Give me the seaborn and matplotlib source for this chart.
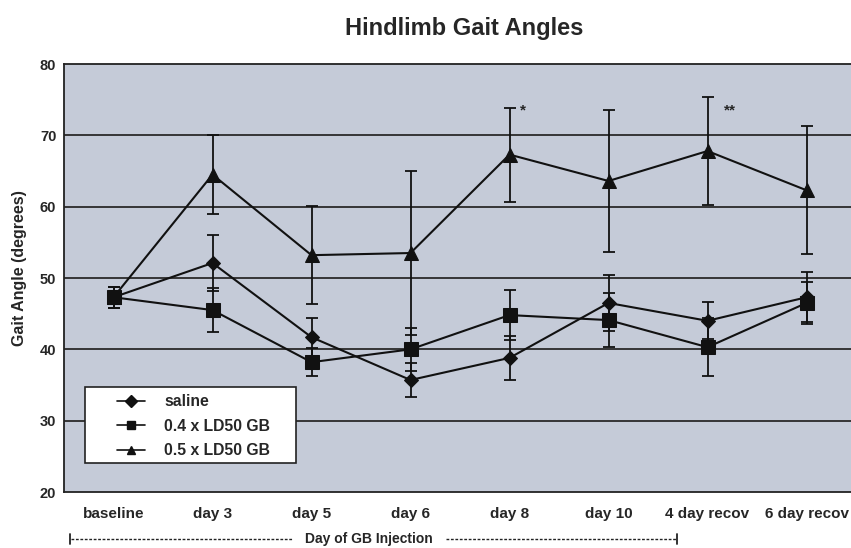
import numpy as np
import pandas as pd
import matplotlib
matplotlib.use('Agg')
import matplotlib.pyplot as plt
from matplotlib.patches import Rectangle
from matplotlib.lines import Line2D
import seaborn as sns

days = ['baseline', 'day 3', 'day 5', 'day 6', 'day 8', 'day 10', '4 day recov', '6 day recov']
groups = ['saline', '0.4 x LD50 GB', '0.5 x LD50 GB']

saline = [47.3, 52.1, 41.7, 35.7, 38.8, 46.5, 44.0, 47.3]
saline_err = [1.5, 3.9, 2.7, 2.4, 3.1, 3.9, 2.6, 3.5]
ld04 = [47.3, 45.5, 38.2, 40.0, 44.8, 44.1, 40.3, 46.5]
ld04_err = [1.5, 3.1, 2.0, 3.0, 3.5, 3.8, 4.1, 3.0]
ld05 = [47.3, 64.5, 53.2, 53.5, 67.3, 63.6, 67.8, 62.3]
ld05_err = [1.5, 5.5, 6.9, 11.5, 6.6, 10.0, 7.6, 9.0]

stars = {'day 8': '*', '4 day recov': '**'}

df = pd.DataFrame({
    'day': days * 3,
    'x': list(range(len(days))) * 3,
    'angle': saline + ld04 + ld05,
    'err': saline_err + ld04_err + ld05_err,
    'group': [g for g in groups for _ in days],
})

sns.set_style('white')
plt.rcParams['font.family'] = ['Liberation Sans', 'DejaVu Sans']

fig = plt.figure(figsize=(8.51, 5.48), dpi=100)
ax = fig.add_axes([64 / 851, 1 - 492 / 548, 792 / 851, 428 / 548])
ax.set_facecolor('#c5cbd8')

for y in [30, 40, 50, 60, 70]:
    ax.axhline(y, color='#2a2a2a', lw=1.3, zorder=1)

# error bars
for g in groups:
    sub = df[df['group'] == g]
    ax.errorbar(sub['x'], sub['angle'], yerr=sub['err'], fmt='none',
                ecolor='#111111', elinewidth=1.3, capsize=4, capthick=1.3, zorder=2)

mk = {'saline': 'D', '0.4 x LD50 GB': 's', '0.5 x LD50 GB': '^'}
sizes = {'saline': 7, '0.4 x LD50 GB': 10, '0.5 x LD50 GB': 9.5}
sns.lineplot(data=df, x='x', y='angle', hue='group', style='group',
             palette=['#111111'] * 3, markers=mk, dashes=False, markersize=10,
             lw=1.5, markeredgecolor='#111111', legend=False, ax=ax, zorder=3)
for line, g in zip(ax.get_lines()[-3:], groups):
    line.set_markersize(sizes[g])

for d, s in stars.items():
    i = days.index(d)
    ax.text(i + (0.14 if s == '*' else 0.23), 73.5, s, fontsize=11,
            fontweight='bold', ha='center', va='center')

ax.set_xlim(-0.5, 7.5)
ax.set_ylim(20, 80)
ax.set_yticks(range(20, 81, 10))
ax.set_xticks(range(len(days)))
ax.set_xticklabels(days)
ax.set_xticks(np.arange(0.5, 7.5, 1), minor=True)
ax.tick_params(axis='x', which='major', length=0, pad=11, labelsize=11)
ax.tick_params(axis='x', which='minor', length=4, direction='in', width=1.2)
ax.tick_params(axis='y', length=5, direction='inout', width=1.2, labelsize=10.5, pad=3)
for lab in ax.get_xticklabels() + ax.get_yticklabels():
    lab.set_fontweight('bold')
ax.set_xlabel('')
ax.set_ylabel('Gait Angle (degrees)', fontsize=11.5, fontweight='bold')
ax.yaxis.set_label_coords(-0.047, 0.523)

for sp in ax.spines.values():
    sp.set_color('#222222')
    sp.set_linewidth(1.3)

# legend: white box plus frameless legend inside it
ax.add_patch(Rectangle((21 / 792, 29 / 428), 211 / 792, 76 / 428, transform=ax.transAxes,
                       facecolor='white', edgecolor='#222222', lw=1.2, zorder=5))
handles = [Line2D([], [], color='#111111', marker=mk[g], markersize=6, lw=1.2) for g in groups]
leg = ax.legend(handles, groups, loc='upper left', bbox_to_anchor=(53 / 792, 98 / 428),
                frameon=False, prop={'weight': 'bold', 'size': 11.3}, handlelength=1.8,
                handletextpad=1.2, borderpad=0, borderaxespad=0, labelspacing=0.62)
leg.set_zorder(6)

fig.text(464 / 851, 1 - 28 / 548, 'Hindlimb Gait Angles', ha='center', va='center',
         fontsize=17, fontweight='bold')

# "Day of GB Injection" bracket
yb = 1 - 539 / 548
fig.text(369 / 851, yb, 'Day of GB Injection', ha='center', va='center',
         fontsize=10, fontweight='bold')
for x0, x1 in [(71, 292), (446, 676)]:
    fig.add_artist(Line2D([x0 / 851, x1 / 851], [yb, yb], color='#222222', lw=1,
                          ls=(0, (2, 1.2))))
for xv in [70, 677]:
    fig.add_artist(Line2D([xv / 851, xv / 851], [yb - 5 / 548, yb + 5 / 548],
                          color='#222222', lw=1.3))

fig.savefig('out.png', dpi=100)
